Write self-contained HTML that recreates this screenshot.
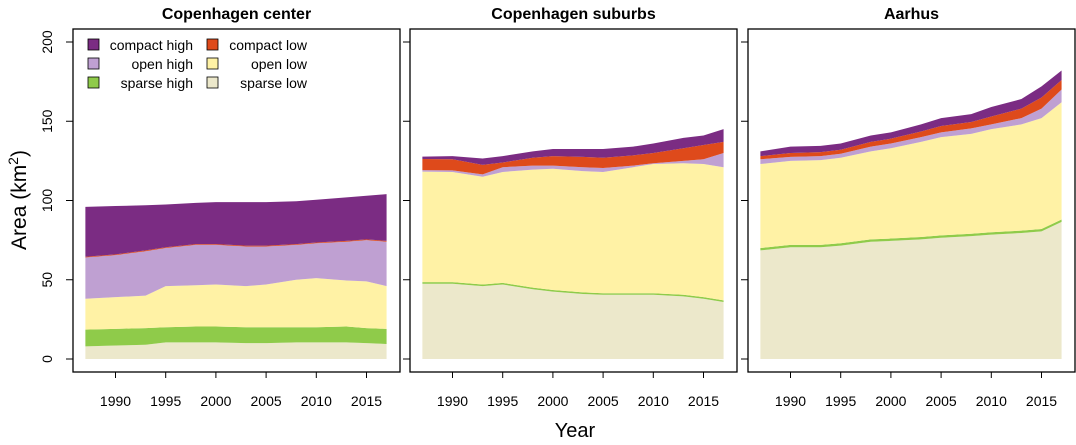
<!DOCTYPE html>
<html><head><meta charset="utf-8"><style>
body{margin:0;background:#fff}
svg{display:block;font-family:"Liberation Sans",sans-serif}
</style></head><body>
<svg id="chart" width="1076" height="445"></svg>
<script>
const years=[1987,1990,1993,1995,1998,2000,2003,2005,2008,2010,2013,2015,2017];
const panelTitles=["Copenhagen center","Copenhagen suburbs","Aarhus"];
const classNames=["sparse low","sparse high","open low","open high","compact low","compact high"];
const yTicks=[0,50,100,150,200];
const xTicks=[1990,1995,2000,2005,2010,2015];
// Copenhagen center layers (km2)
const cphCenterSparseLow=[8,8.5,9,10.5,10.5,10.5,10,10,10.5,10.5,10.5,10,9.5];
const cphCenterSparseHigh=[10.5,10.5,10.5,9.5,10,10,10,10,9.5,9.5,10,9.5,9.5];
const cphCenterOpenLow=[19.5,20,20.5,26,26,26.5,26,27,30,31,29,29.5,27];
const cphCenterOpenHigh=[26,26.5,28,24,25.5,25,25,24,22,22,24.5,26,28];
const cphCenterCompactLow=[0.5,0.5,0.5,0.5,0.5,0.5,0.5,0.5,0.5,0.5,0.5,0.5,0.5];
const cphCenterCompactHigh=[31.5,30.5,28.5,27,26,26.5,27.5,27.5,27,27,27.5,27.5,29.5];
// Copenhagen suburbs
const cphSubSparseLow=[47.5,47.5,46,47,44,42.5,41,40.5,40.5,40.5,39.5,38,36];
const cphSubSparseHigh=[1,1,1,1,1,1,1,1,1,1,1,1,1];
const cphSubOpenLow=[69.7,69.5,68,70,74.5,76.5,76.5,76.5,79.5,81.5,83,84,84];
const cphSubOpenHigh=[1,1,1.5,3,2.5,2,2.5,2.5,1,0.5,1.5,3,9];
const cphSubCompactLow=[7,7,6,3,5,6,6.5,6.5,6.5,6.5,8,9,7];
const cphSubCompactHigh=[1.5,2,4,4,4,4.5,5,5.5,5.5,6,6.5,6,8];
// Aarhus
const aarSparseLow=[68.5,70.5,70.5,71.5,74,74.5,75.5,76.5,77.5,78.5,79.5,80.5,86.5];
const aarSparseHigh=[1.5,1.5,1.5,1.5,1.5,1.5,1.5,1.5,1.5,1.5,1.5,1.5,1.5];
const aarOpenLow=[53,53,53.5,54,55.5,57,60,62,63,65,67,70,74];
const aarOpenHigh=[3,2.5,2.5,2.5,3,3,3,3,3.5,3,4,6,8];
const aarCompactLow=[2,2.5,2.5,2.5,3,3,3.5,4,4,5,6,7,6];
const aarCompactHigh=[3,4,4,4,4,4,4.5,5,5,6,6,7,6];

const panels=[
 [cphCenterSparseLow,cphCenterSparseHigh,cphCenterOpenLow,cphCenterOpenHigh,cphCenterCompactLow,cphCenterCompactHigh],
 [cphSubSparseLow,cphSubSparseHigh,cphSubOpenLow,cphSubOpenHigh,cphSubCompactLow,cphSubCompactHigh],
 [aarSparseLow,aarSparseHigh,aarOpenLow,aarOpenHigh,aarCompactLow,aarCompactHigh]];
const colors=["#ECE8CB","#8FCB4A","#FFF2A5","#BFA0D2","#DE4A1B","#7B2C83"];
const NS="http://www.w3.org/2000/svg";
const svg=document.getElementById('chart');
function mk(t,a,p){const e=document.createElementNS(NS,t);for(const k in a)e.setAttribute(k,a[k]);(p||svg).appendChild(e);return e;}
const boxL=[73,410,748],boxW=327,boxT=29,boxB=372;
const yS=v=>359-v*1.585;
panels.forEach((layers,pi)=>{
 const off=boxL[pi]-73;
 const xS=yr=>115.5+(yr-1990)*10.04+off;
 const g=mk('g',{});
 
 
 let base=years.map(()=>0);
 layers.forEach((vals,li)=>{
  const top=base.map((b,i)=>b+vals[i]);
  let d='M'+years.map((y,i)=>xS(y)+','+yS(top[i])).join(' L');
  for(let i=years.length-1;i>=0;i--)d+=' L'+xS(years[i])+','+yS(base[i]);
  const p=mk('path',{d:d+'Z',fill:colors[li]},g);
  
  
  base=top;
 });
 const b=mk('rect',{x:boxL[pi],y:boxT,width:boxW,height:boxB-boxT,fill:'none',stroke:'#000','stroke-width':1.3},g);
 
 
 const t=mk('text',{x:boxL[pi]+boxW/2,y:19,'text-anchor':'middle','font-size':16,'font-weight':'bold'},g);
 t.textContent=panelTitles[pi];
 
 
 xTicks.forEach(v=>{
  mk('line',{x1:xS(v),x2:xS(v),y1:boxB,y2:boxB+6,stroke:'#000'},g);
  const tl=mk('text',{x:xS(v),y:406,'text-anchor':'middle','font-size':14},g);
  tl.textContent=v;
  
  
 });
 yTicks.forEach(v=>{
  mk('line',{x1:boxL[pi],x2:boxL[pi]-7,y1:yS(v),y2:yS(v),stroke:'#000'},g);
  if(pi===0){
   const tl=mk('text',{x:0,y:0,'text-anchor':'middle','font-size':14,transform:`translate(52,${yS(v)}) rotate(-90)`},g);
   tl.textContent=v;
   
   
  }
 });
});
const yl=mk('text',{x:0,y:0,'text-anchor':'middle','font-size':21,transform:'translate(26,200) rotate(-90)'});
yl.innerHTML='Area  (km<tspan dy="-8" font-size="14">2</tspan><tspan dy="8">)</tspan>';


const xl=mk('text',{x:575,y:437,'text-anchor':'middle','font-size':20});
xl.textContent='Year';


// legend
const lg=mk('g',{});


const legendOrder=[[5,4],[3,2],[1,0]];
legendOrder.forEach((row,r)=>{
 row.forEach((ci,c)=>{
  const y=45+r*19;
  const sx=c===0?88:207;
  mk('rect',{x:sx,y:y-6,width:11,height:11,fill:colors[ci],stroke:'#000','stroke-width':0.8},lg);
  const tx=mk('text',{x:c===0?193:307,y:y+5,'text-anchor':'end','font-size':14},lg);
  tx.textContent=classNames[ci];
  
  
 });
});
</script>
</body></html>
